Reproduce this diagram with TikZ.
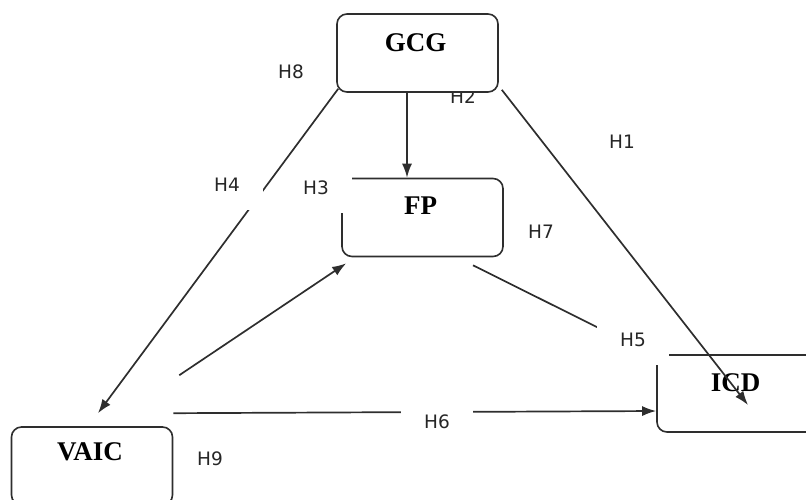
\documentclass[tikz,border=0pt]{standalone}
\usepackage{fontspec}
\setmainfont{Liberation Serif}
\newfontfamily\hfont{DejaVu Sans}
\usetikzlibrary{arrows.meta,positioning}
\definecolor{linegray}{HTML}{2E2E2E}
\tikzset{
  box/.style={draw=linegray, line width=1.6pt, rounded corners=10pt, fill=white, minimum width=161pt, minimum height=78pt, inner sep=0pt},
  boxtext/.style={font=\fontsize{27}{30}\selectfont\bfseries, inner sep=0pt},
  hlabel/.style={font=\hfont\fontsize{18.5}{20}\selectfont, text=black!85, fill=white, inner sep=0pt, minimum width=72pt, text height=20.5pt, text depth=18.5pt, anchor=base},
  arr/.style={draw=linegray, line width=1.7pt, -{Latex[length=14pt,width=10pt]}},
  link/.style={draw=linegray, line width=1.7pt}
}

\begin{document}
\begin{tikzpicture}[x=1pt,y=-1pt]
\useasboundingbox (0,0) rectangle (806,499);

% label under the GCG box
\node[hlabel] (h2) at (463,103) {H2};

% boxes
\node[box] (gcg) at (417.5,53) {};
\node[box] (fp) at (422.5,217.5) {};
\node[box, minimum height=77pt] (icd) at (737.5,393.5) {};
\node[box] (vaic) at (92,466) {};
\node[boxtext] (gcgt) at ([xshift=-2pt,yshift=-29pt]gcg.north) {GCG};
\node[boxtext] (fpt) at ([xshift=-2pt,yshift=-28pt]fp.north) {FP};
\node[boxtext] (icdt) at ([xshift=-2pt,yshift=-28pt]icd.north) {ICD};
\node[boxtext] (vaict) at ([xshift=-2pt,yshift=-26pt]vaic.north) {VAIC};

% connectors
\draw[arr] ([xshift=-10.5pt]gcg.south) -- ([xshift=-10.5pt]gcg.south |- fp.north);
\draw[arr] ([xshift=2pt,yshift=4pt]gcg.south west) -- ([xshift=6pt,yshift=13pt]vaic.north);
\draw[arr] ([xshift=3pt,yshift=3pt]gcg.south east) -- ([xshift=10.5pt,yshift=-11.5pt]icd.center);
\draw[arr] ([xshift=6pt,yshift=51pt]vaic.north east) -- ([xshift=5pt,yshift=-6pt]fp.south west);
\draw[link] ([xshift=50.5pt,yshift=-8pt]fp.south) -- ([xshift=-59pt,yshift=27pt]icd.north west);
\draw[arr] ([yshift=13pt]vaic.north east) -- ([yshift=-17.5pt]icd.west);

% hypothesis labels
\node[hlabel] (h8) at (291,78.5) {H8};
\node[hlabel] (h1) at (622,148.5) {H1};
\node[hlabel] (h4) at (227,191.5) {H4};
\node[hlabel] (h3) at (316,194.5) {H3};
\node[hlabel] (h7) at (541,238.5) {H7};
\node[hlabel] (h5) at (633,346.5) {H5};
\node[hlabel] (h6) at (437,428.5) {H6};
\node[hlabel] (h9) at (210,465.5) {H9};
\end{tikzpicture}
\end{document}
